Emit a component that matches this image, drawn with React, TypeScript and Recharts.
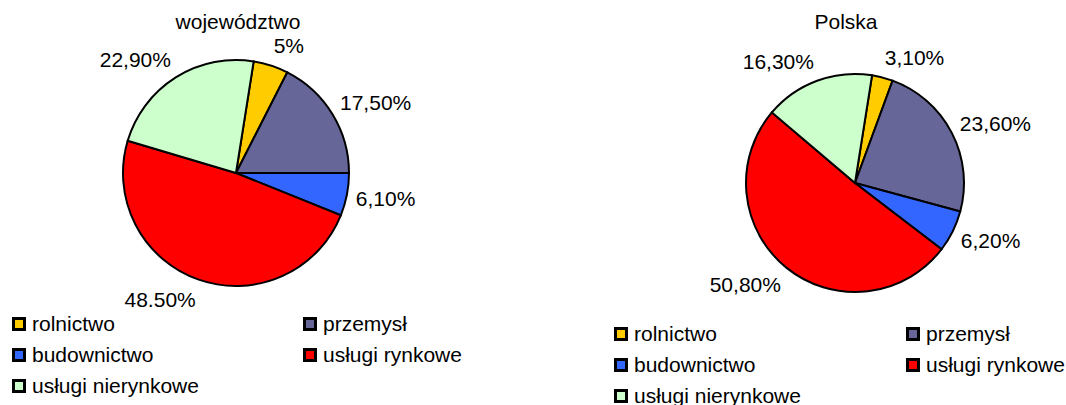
import React from 'react';
import { PieChart, Pie, Cell, Legend } from 'recharts';

const categories = ['rolnictwo', 'przemysł', 'budownictwo', 'usługi rynkowe', 'usługi nierynkowe'];
const wojewodztwoValues = [5, 17.5, 6.1, 48.5, 22.9];
const polskaValues = [3.1, 23.6, 6.2, 50.8, 16.3];
const chartTitles = ['województwo', 'Polska'];
const colors = ['#FFCC00', '#666699', '#3366FF', '#FF0000', '#CCFFCC'];

const FONT = '"Liberation Sans", Arial, sans-serif';
const FS = 21;

const fmt = (v: number) => (Number.isInteger(v) ? `${v}%` : `${v.toFixed(2).replace('.', ',')}%`);

const renderLabel = (props: any) => {
  const { cx, cy, midAngle, outerRadius, value } = props;
  const RAD = Math.PI / 180;
  const R = outerRadius + 9;
  const c = Math.cos(-midAngle * RAD);
  const s = Math.sin(-midAngle * RAD);
  const x = cx + R * c;
  const y = cy + R * s - Math.sin(midAngle * RAD) * 12;
  return (
    <text
      x={x}
      y={y}
      textAnchor={c >= 0 ? 'start' : 'end'}
      dominantBaseline="central"
      fontFamily={FONT}
      fontSize={FS}
      fill="#000"
    >
      {fmt(value)}
    </text>
  );
};

const makeLegend = (colWidth: number) => () => (
  <div
    style={{
      display: 'grid',
      gridTemplateColumns: `${colWidth}px ${colWidth}px`,
      gridAutoRows: '31px',
      fontFamily: FONT,
      fontSize: FS,
      color: '#000',
    }}
  >
    {categories.map((name, i) => (
      <div key={name} style={{ display: 'flex', alignItems: 'center', whiteSpace: 'nowrap' }}>
        <span
          style={{
            display: 'inline-block',
            width: 14,
            height: 14,
            boxSizing: 'border-box',
            border: '3px solid #000',
            background: colors[i],
            marginRight: 6,
          }}
        />
        <span>{name}</span>
      </div>
    ))}
  </div>
);

const buildData = (vals: number[]) => categories.map((name, i) => ({ name, value: vals[i] }));

export default function App() {
  const left = buildData(wojewodztwoValues);
  const right = buildData(polskaValues);
  return (
    <div
      style={{
        position: 'absolute',
        left: 0,
        top: 0,
        width: 1066,
        height: 405,
        background: '#fff',
        overflow: 'hidden',
      }}
    >
      <div style={{ position: 'absolute', left: 0, top: 0 }}>
        <PieChart width={540} height={307} margin={{ top: 0, right: 0, bottom: 0, left: 0 }}>
          <text x={238} y={29} textAnchor="middle" fontFamily={FONT} fontSize={FS} fill="#000">
            {chartTitles[0]}
          </text>
          <Pie
            data={left}
            dataKey="value"
            nameKey="name"
            cx={236}
            cy={173}
            outerRadius={113}
            startAngle={81}
            endAngle={-279}
            stroke="#000"
            strokeWidth={2}
            label={renderLabel}
            labelLine={false}
            isAnimationActive={false}
          >
            {left.map((d, i) => (
              <Cell key={d.name} fill={colors[i]} />
            ))}
          </Pie>
          <Legend
            verticalAlign="bottom"
            align="left"
            content={makeLegend(291)}
            wrapperStyle={{ top: 308, left: 12, bottom: 'auto', right: 'auto', width: 600 }}
          />
        </PieChart>
      </div>
      <div style={{ position: 'absolute', left: 540, top: 0 }}>
        <PieChart width={526} height={405} margin={{ top: 0, right: 0, bottom: 0, left: 0 }}>
          <text x={306} y={29} textAnchor="middle" fontFamily={FONT} fontSize={FS} fill="#000">
            {chartTitles[1]}
          </text>
          <Pie
            data={right}
            dataKey="value"
            nameKey="name"
            cx={315}
            cy={183}
            outerRadius={109}
            startAngle={81}
            endAngle={-279}
            stroke="#000"
            strokeWidth={2}
            label={renderLabel}
            labelLine={false}
            isAnimationActive={false}
          >
            {right.map((d, i) => (
              <Cell key={d.name} fill={colors[i]} />
            ))}
          </Pie>
          <Legend
            verticalAlign="bottom"
            align="left"
            content={makeLegend(292)}
            wrapperStyle={{ top: 318, left: 74, bottom: 'auto', right: 'auto', width: 600 }}
          />
        </PieChart>
      </div>
    </div>
  );
}
